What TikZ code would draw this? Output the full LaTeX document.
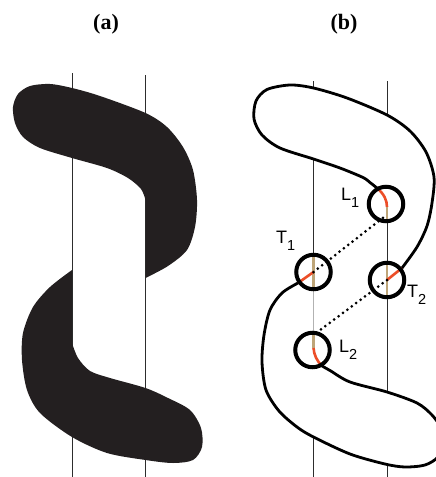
\documentclass[tikz,border=0pt]{standalone}
\usepackage{fontspec}
\setmainfont{Liberation Serif}
\newfontfamily\lsans{Liberation Sans}
\definecolor{fillc}{RGB}{35,31,32}
\definecolor{linec}{RGB}{45,45,45}
\definecolor{redc}{RGB}{236,78,40}
\definecolor{tanc}{RGB}{190,165,120}
\newcommand\lablet[2]{{\lsans\fontsize{18}{18}\selectfont #1}\raisebox{-7.5pt}{\lsans\fontsize{14.5}{14.5}\selectfont #2}}
\begin{document}
\begin{tikzpicture}[x=1pt,y=-1pt,
  axis/.style={draw=linec, line width=1pt},
  faint/.style={draw=gray!60, line width=1pt},
  outline/.style={draw=black, line width=2.8pt, line cap=round},
  redseg/.style={draw=redc, line width=2.6pt},
  tanseg/.style={draw=tanc, line width=2.6pt},
  dotline/.style={draw=black, line width=3pt, line cap=round, dash pattern=on 0pt off 5.5pt},
  ring/.style={circle, draw=black, line width=4pt, minimum size=34.5pt, inner sep=0pt},
  title/.style={font=\bfseries\fontsize{22}{22}\selectfont, anchor=base},
  lab/.style={anchor=base west, inner sep=0pt}]
\useasboundingbox (0,0) rectangle (436,477);
% titles
\node[title] (ta) at (106,29) {(a)};
\node[title] (tb) at (344,29) {(b)};
% ---------- panel (a) ----------
\draw[axis] (72,73) -- (72,477);
\draw[axis] (145.5,75) -- (145.5,477);
\fill[fillc] plot[smooth] coordinates {(145.5,200) (141,189) (128,178) (107,168) (72,158) (40,148) (23,137) (15,123) (13,107) (18,94) (30,86) (50,84) (72,88) (100,96) (145.5,113) (167,127) (183,147) (193,170) (197,200) (195,227) (187,250) (168,266) (145.5,278)} -- cycle;
\fill[fillc] plot[smooth] coordinates {(72,270) (50,287) (33,307) (23,333) (22,360) (27,390) (40,413) (72,437) (107,453) (145.5,460) (173,463) (193,460) (202,447) (201,428) (190,410) (168,398) (145.5,388) (110,378) (90,371) (78,358) (72,343)} -- cycle;
% ---------- panel (b) ----------
\coordinate (T1) at (313.5,272);
\coordinate (T2) at (387,280);
\coordinate (L1) at (386,204);
\coordinate (L2) at (312.5,350);
% axis pieces
\draw[axis] (313.5,81) -- (313.5,89);
\draw[axis] (313.5,159) -- (313.5,255);
\draw[faint] (313.5,289) -- (313.5,333);
\draw[axis] (313.5,437) -- (313.5,477);
\draw[axis] (387,81) -- (387,115);
\draw[axis] (387,221) -- (387,263);
\draw[axis] (387,297) -- (387,392);
\draw[axis] (387,464) -- (387,477);
% outlines
\draw[outline] plot[smooth] coordinates {(377,188) (370,182.5) (363,177.5) (340,168) (313.5,159) (280,148) (262,135) (254,119) (256,101) (267,89.5) (290,85) (313.5,88) (347,98) (387,115) (410,131) (426,152) (434,177) (432,203) (427,226) (417,247) (402,268)};
\draw[outline] plot[smooth] coordinates {(322,366) (330,370.5) (350,382) (387,392) (417,403) (432,415) (441,428) (444,443) (438,457) (425,465) (405,467) (385,464) (350,454) (313.5,437) (297,427) (279,411) (266,390) (262,362) (264,335) (270,310) (282,293) (298,283)};
% coloured pieces inside the rings
\draw[tanseg] (313.5,255) -- (313.5,289);
\draw[redseg] (298,283) -- (313.5,272);
\draw[tanseg] (387,263) -- (387,297);
\draw[redseg] (402,268) -- (387,280);
\draw[redseg] (377,188) .. controls (384,194) and (387,200) .. (387,207);
\draw[tanseg] (387,207) -- (387,221);
\draw[tanseg] (313.5,333) -- (313.5,348);
\draw[redseg] (313.5,348) .. controls (314,355) and (317,361) .. (322,366);
% dotted connectors
\coordinate (d1) at (384,217);
\coordinate (d2) at (313.5,335);
\draw[dotline] (T1) -- (d1);
\draw[dotline] (T2) -- (d2);
% rings
\node[ring] (rT1) at (T1) {};
\node[ring] (rT2) at (T2) {};
\node[ring] (rL1) at (L1) {};
\node[ring] (rL2) at (L2) {};
% labels
\node[lab] (lL1) at (341,200) {\lablet{L}{1}};
\node[lab] (lT1) at (276,243) {\lablet{T}{1}};
\node[lab] (lT2) at (407,297) {\lablet{T}{2}};
\node[lab] (lL2) at (339,352) {\lablet{L}{2}};
\end{tikzpicture}
\end{document}
